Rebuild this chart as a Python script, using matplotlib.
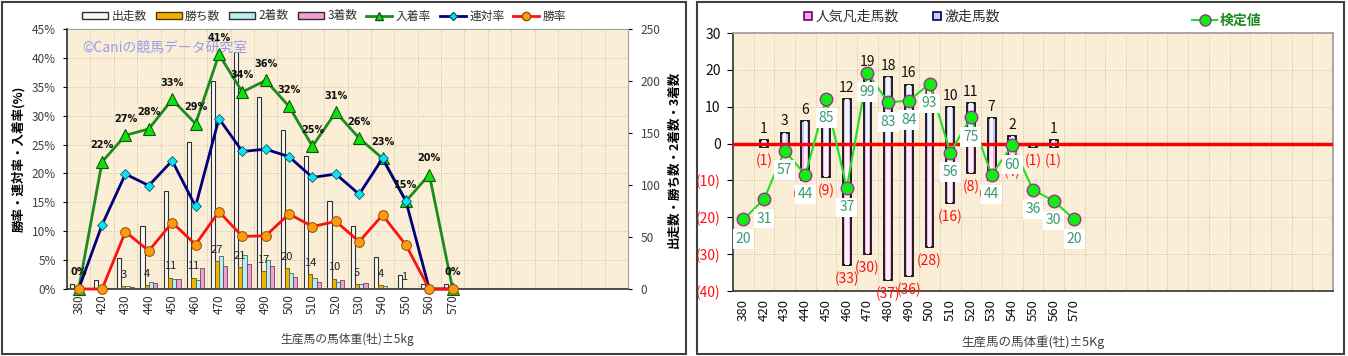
import numpy as np
import matplotlib
matplotlib.use('Agg')
import matplotlib.pyplot as plt
from matplotlib.patches import Rectangle, Patch
from matplotlib.lines import Line2D
from matplotlib.ticker import FuncFormatter

plt.rcParams['font.family'] = ['Noto Sans CJK JP', 'DejaVu Sans']

# ---- data ----
weights = ['380', '420', '430', '440', '450', '460', '470', '480', '490',
           '500', '510', '520', '530', '540', '550', '560', '570']

# left chart: counts (right axis)
runs = [5, 9, 30, 61, 94, 141, 200, 228, 185, 153, 128, 85, 61, 31, 13, 5, 5]
wins = [0, 0, 3, 4, 11, 11, 27, 21, 17, 20, 14, 10, 5, 4, 1, 0, 0]
seconds = [0, 1, 3, 7, 10, 9, 32, 33, 28, 15, 11, 7, 5, 3, 1, 0, 0]
thirds = [0, 1, 2, 6, 10, 20, 22, 24, 22, 12, 7, 9, 6, 0, 0, 1, 0]

# left chart: rates in % (left axis)
place_rate = [0, 22.0, 26.6, 27.7, 32.8, 28.6, 40.6, 34.1, 36.1, 31.6,
              24.7, 30.6, 26.1, 22.6, 15.2, 19.8, 0]
rentai_rate = [0, 11.1, 19.9, 17.9, 22.2, 14.3, 29.5, 23.8, 24.2, 22.9,
               19.3, 19.9, 16.4, 22.6, 15.2, 0, 0]
win_rate = [0, 0, 9.9, 6.6, 11.5, 7.7, 13.4, 9.1, 9.2, 13.0,
            10.8, 11.7, 8.2, 12.8, 7.6, 0, 0]

# right chart
gekisou = [0, 1, 3, 6, 8, 12, 19, 18, 16, 11, 10, 11, 7, 2, 0, 1, 0]
bonsou = [0, -1, -3, -10, -9, -33, -30, -37, -36, -28, -16, -8, -10, -4, -1, -1, 0]
kentei = [20, 31, 57, 44, 85, 37, 99, 83, 84, 93, 56, 75, 44, 60, 36, 30, 20]

W, H = 1348, 356
BG = '#faefd6'
GRID = '#c8bfa8'


def px_axes(x0, y0, x1, y1):
    return [x0 / W, 1 - y1 / H, (x1 - x0) / W, (y1 - y0) / H]


fig = plt.figure(figsize=(W / 100, H / 100), dpi=100)
fig.patch.set_facecolor('white')

# panel frames
fig.patches.append(Rectangle((1.5 / W, 1 - 354 / H), 684 / W, 352 / H, transform=fig.transFigure,
                             fill=False, edgecolor='#404040', lw=1.5))
fig.patches.append(Rectangle((697 / W, 1 - 354 / H), 647 / W, 352 / H, transform=fig.transFigure,
                             fill=False, edgecolor='#404040', lw=1.5))

# ================= left chart =================
x = np.arange(len(weights))
axb = fig.add_axes(px_axes(67, 29, 628, 289))
axl = axb.twinx()

axb.set_facecolor(BG)
axb.set_xlim(-0.5, 23.5)
axb.set_ylim(0, 250)
bw = 0.18
axb.bar(x - 1.5 * bw, runs, bw, color='#f8f8f8', edgecolor='#303030', lw=0.8, zorder=2)
axb.bar(x - 0.5 * bw, wins, bw, color='#f0b400', edgecolor='#705000', lw=0.6, zorder=2)
axb.bar(x + 0.5 * bw, seconds, bw, color='#b8eef0', edgecolor='#406868', lw=0.6, zorder=2)
axb.bar(x + 1.5 * bw, thirds, bw, color='#f2a0d0', edgecolor='#704060', lw=0.6, zorder=2)

for xi, w in zip(x, wins):
    if w > 0:
        axb.annotate(str(w), (xi - 0.5 * bw, w), xytext=(0, 8), textcoords='offset points',
                     ha='center', va='center', fontsize=8, color='#202020', zorder=3)

axb.yaxis.tick_right()
axb.yaxis.set_label_position('right')
axb.set_yticks(np.arange(0, 251, 50))
axb.set_yticks(np.arange(1, 9) * 250 / 9, minor=True)
axb.set_xticks(x)
axb.set_xticklabels(weights, rotation=90)
axb.set_xticks(np.arange(0.5, 23.5, 1), minor=True)
axb.grid(which='minor', color=GRID, lw=0.7, ls=':')
axb.tick_params(which='minor', length=0)
axb.tick_params(axis='x', which='major', length=0, labelsize=8.5, labelcolor='#303030', pad=4)
axb.tick_params(axis='y', which='major', length=3, labelsize=8.5, labelcolor='#404040', pad=6)
axb.set_ylabel('出走数・勝ち数・2着数・3着数', fontsize=9, fontweight='bold')
axb.yaxis.set_label_coords(1.07, 0.5)
axb.set_xlabel('生産馬の馬体重(牡)±5kg', fontsize=8.5, color='#404040', labelpad=13)
for s in ['top', 'right']:
    axb.spines[s].set_color('#a0a0a0')
for s in ['left', 'bottom']:
    axb.spines[s].set_color('#404040')
    axb.spines[s].set_linewidth(1.3)

axl.set_ylim(0, 45)
axl.yaxis.tick_left()
axl.yaxis.set_label_position('left')
axl.set_yticks(np.arange(0, 46, 5))
axl.yaxis.set_major_formatter(FuncFormatter(lambda v, p: f'{v:.0f}%'))
axl.tick_params(axis='y', length=3, labelsize=8.5, labelcolor='#404040', pad=5)
axl.set_ylabel('勝率・連対率・入着率(%)', fontsize=9, fontweight='bold')
axl.yaxis.set_label_coords(-0.075, 0.5)
for s in axl.spines.values():
    s.set_visible(False)

axl.plot(x, place_rate, color='#1c8a1c', lw=2, marker='^', ms=8,
         mfc='#10e010', mec='#0a5a0a', mew=0.8, zorder=4, clip_on=False)
axl.plot(x, rentai_rate, color='#00007a', lw=2, marker='D', ms=5,
         mfc='#10e0f0', mec='#006070', mew=0.6, zorder=5, clip_on=False)
axl.plot(x, win_rate, color='#ff1010', lw=2, marker='o', ms=7,
         mfc='#ff9a10', mec='#905000', mew=0.7, zorder=6, clip_on=False)
for xi, v in zip(x, place_rate):
    axl.annotate(f'{v:.0f}%', (xi, v), xytext=(0, 12), textcoords='offset points',
                 ha='center', va='center', fontsize=7, fontweight='bold',
                 family='DejaVu Sans', color='#101010', zorder=7)

axl.text(0.028, 0.927, '©Caniの競馬データ研究室', transform=axl.transAxes,
         color='#9a9af0', fontsize=10, va='center', ha='left')

handles = [
    Patch(facecolor='#f8f8f8', edgecolor='#303030', lw=1),
    Patch(facecolor='#f0b400', edgecolor='#503800', lw=1),
    Patch(facecolor='#b8eef0', edgecolor='#303030', lw=1),
    Patch(facecolor='#f2a0d0', edgecolor='#303030', lw=1),
    Line2D([], [], color='#1c8a1c', lw=2, marker='^', ms=6, mfc='#10e010', mec='#0a5a0a'),
    Line2D([], [], color='#00007a', lw=2, marker='D', ms=4, mfc='#10e0f0', mec='#006070'),
    Line2D([], [], color='#ff1010', lw=2, marker='o', ms=6, mfc='#ff9a10', mec='#905000'),
]
fig.legend(handles, ['出走数', '勝ち数', '2着数', '3着数', '入着率', '連対率', '勝率'],
           loc='center left', bbox_to_anchor=(82 / W, 1 - 16 / H), ncol=7, frameon=False,
           fontsize=8.5, handlelength=2.2, handleheight=0.55, handletextpad=0.3,
           columnspacing=0.75, borderpad=0, borderaxespad=0, labelcolor='#303030')

# ================= right chart =================
ax2 = fig.add_axes(px_axes(733, 33, 1333, 291))
axk = ax2.twinx()

ax2.set_facecolor(BG)
ax2.set_xlim(-0.5, 28.5)
ax2.set_ylim(-40, 30)
bw2 = 0.38
ax2.bar(x, gekisou, bw2, color='#c4c8ff', edgecolor='#101010', lw=1.3, zorder=2)
ax2.bar(x, gekisou, bw2 * 0.45, color='#f4f4ff', lw=0, zorder=2)
ax2.bar(x, bonsou, bw2, color='#ffa8f0', edgecolor='#101010', lw=1.3, zorder=2)
ax2.bar(x, bonsou, bw2 * 0.45, color='#fff0fc', lw=0, zorder=2)
ax2.axhline(0, color='#ff0000', lw=2.5, zorder=3)

for xi, v in zip(x, gekisou):
    if v > 0:
        ax2.annotate(str(v), (xi, v), xytext=(0, 8), textcoords='offset points',
                     ha='center', va='center', fontsize=10, color='#101010', zorder=4)
for xi, v in zip(x, bonsou):
    if v < 0:
        ax2.annotate(f'({-v})', (xi, v), xytext=(0, -10), textcoords='offset points',
                     ha='center', va='center', fontsize=10, color='#ff1010', zorder=4,
                     annotation_clip=False)

ax2.yaxis.tick_left()
ax2.set_xticks(x)
ax2.set_xticklabels(weights, rotation=90)
ax2.set_xticks(np.arange(0.5, 28.5, 1), minor=True)
ax2.set_yticks(np.arange(-40, 31, 10))
ax2.set_yticklabels([f'({-v})' if v < 0 else str(v) for v in range(-40, 31, 10)])
for lab, v in zip(ax2.get_yticklabels(), range(-40, 31, 10)):
    lab.set_color('#ff1010' if v < 0 else '#101010')
ax2.grid(which='minor', axis='x', color=GRID, lw=0.7, ls=':')
ax2.grid(which='major', axis='y', color=GRID, lw=0.7, ls=':')
ax2.tick_params(which='minor', length=0)
ax2.tick_params(axis='x', which='major', length=0, labelsize=9.5, labelcolor='#101010', pad=6)
ax2.tick_params(axis='y', length=4, labelsize=10, pad=5)
ax2.set_xlabel('生産馬の馬体重(牡)±5Kg', fontsize=9, color='#404040', labelpad=10)
for s in ['top', 'right']:
    ax2.spines[s].set_color('#a0a0a0')
    ax2.spines[s].set_linewidth(1.3)
for s in ['left', 'bottom']:
    ax2.spines[s].set_color('#404040')
    ax2.spines[s].set_linewidth(1.3)

axk.set_ylim(-18.5, 120.4)
axk.set_yticks([])
for s in axk.spines.values():
    s.set_visible(False)
axk.plot(x, kentei, color='#22dd22', lw=1.5, marker='o', ms=9,
         mfc='#10ee10', mec='#993399', mew=1.0, zorder=5)
for xi, v in zip(x, kentei):
    axk.annotate(str(v), (xi, v), xytext=(0, -14), textcoords='offset points',
                 ha='center', va='center', fontsize=10, color='#3a9a70', zorder=6,
                 bbox=dict(boxstyle='square,pad=0.2', fc='white', ec='none'))

leg1 = [Line2D([], [], ls='none', marker='s', ms=6, mfc='#ff9ef0', mec='#700070', mew=1.2),
        Line2D([], [], ls='none', marker='s', ms=6, mfc='#c8d0ff', mec='#000050', mew=1.2)]
fig.legend(leg1, ['人気凡走馬数', '激走馬数'], loc='center left',
           bbox_to_anchor=(803 / W, 1 - 17 / H), ncol=2, frameon=False, fontsize=10,
           handlelength=0.7, handletextpad=0.2, columnspacing=2.4, borderpad=0,
           borderaxespad=0, labelcolor='#303030')
leg2 = [Line2D([], [], color='#22dd22', lw=1.5, marker='o', ms=8, mfc='#10ee10',
               mec='#993399', mew=1.0)]
fig.legend(leg2, ['検定値'], loc='center left', bbox_to_anchor=(1192 / W, 1 - 21 / H),
           frameon=False, fontsize=10, handlelength=1.8, handletextpad=0.2, borderpad=0,
           borderaxespad=0, labelcolor='#208a20', prop={'weight': 'bold', 'size': 10})

fig.savefig('out.png', dpi=100)
